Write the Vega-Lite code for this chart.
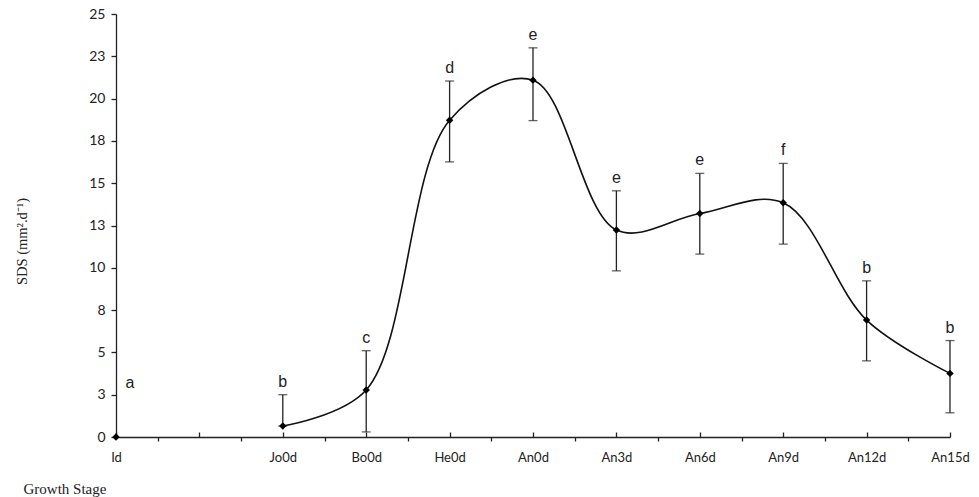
{
  "$schema": "https://vega.github.io/schema/vega-lite/v6.json",
  "width": 834,
  "height": 423,
  "autosize": {"type": "none"},
  "padding": {"left": 116, "top": 14, "right": 29, "bottom": 60},
  "background": "white",
  "config": {
    "view": {"stroke": null},
    "axis": {
      "grid": false,
      "domainColor": "#222",
      "domainWidth": 1.3,
      "tickColor": "#222",
      "tickWidth": 1.3,
      "labelColor": "#222",
      "titleColor": "#222",
      "labelFont": "Lato",
      "titleFont": "Liberation Serif",
      "titleFontWeight": "normal"
    }
  },
  "data": {
    "values": [
      {"stage": "Id", "x": 0, "mean": 0, "lower": null, "upper": null, "letter": "a"},
      {"stage": "Jo0d", "x": 2, "mean": 0.65, "lower": 0.65, "upper": 2.5, "letter": "b"},
      {"stage": "Bo0d", "x": 3, "mean": 2.78, "lower": 0.3, "upper": 5.1, "letter": "c"},
      {"stage": "He0d", "x": 4, "mean": 18.72, "lower": 16.26, "upper": 21.04, "letter": "d"},
      {"stage": "An0d", "x": 5, "mean": 21.09, "lower": 18.7, "upper": 23.0, "letter": "e"},
      {"stage": "An3d", "x": 6, "mean": 12.23, "lower": 9.82, "upper": 14.55, "letter": "e"},
      {"stage": "An6d", "x": 7, "mean": 13.21, "lower": 10.81, "upper": 15.58, "letter": "e"},
      {"stage": "An9d", "x": 8, "mean": 13.84, "lower": 11.4, "upper": 16.17, "letter": "f"},
      {"stage": "An12d", "x": 9, "mean": 6.91, "lower": 4.5, "upper": 9.23, "letter": "b"},
      {"stage": "An15d", "x": 10, "mean": 3.76, "lower": 1.43, "upper": 5.7, "letter": "b"}
    ]
  },
  "layer": [
    {
      "transform": [{"filter": "datum.x >= 2"}],
      "mark": {"type": "line", "interpolate": "catmull-rom", "color": "#111", "strokeWidth": 1.6},
      "encoding": {
        "x": {
          "field": "x", "type": "quantitative",
          "scale": {"domain": [0, 10], "nice": false, "zero": false},
          "axis": {
            "orient": "bottom",
            "values": [0, 1, 2, 3, 4, 5, 6, 7, 8, 9, 10],
            "labelExpr": "['Id','','Jo0d','Bo0d','He0d','An0d','An3d','An6d','An9d','An12d','An15d'][datum.value]",
            "tickSize": -5,
            "labelPadding": 19,
            "labelFontSize": 13,
            "labelFlush": false,
            "labelOverlap": false,
            "title": "Growth Stage",
            "titleFontSize": 15,
            "titleX": -93,
            "titleY": 51,
            "titleAlign": "left",
            "titleAnchor": null,
            "titleBaseline": "middle"
          }
        },
        "y": {
          "field": "mean", "type": "quantitative",
          "scale": {"domain": [0, 25], "nice": false},
          "axis": {
            "values": [0, 2.5, 5, 7.5, 10, 12.5, 15, 17.5, 20, 22.5, 25],
            "format": ".0f",
            "tickSize": 5,
            "labelPadding": 6,
            "labelFontSize": 14,
            "title": "SDS (mm².d⁻¹)",
            "titleFontSize": 14.5,
            "titleX": -94,
            "titleY": 227,
            "titleAngle": -90,
            "titleAlign": "center",
            "titleAnchor": null,
            "titleBaseline": "middle"
          }
        }
      }
    },
    {
      "transform": [{"filter": "datum.upper != null"}],
      "mark": {"type": "errorbar", "color": "#222", "thickness": 1.3, "ticks": {"size": 9}},
      "encoding": {
        "x": {"field": "x", "type": "quantitative", "axis": null},
        "y": {
          "field": "lower", "type": "quantitative",
          "axis": {
            "values": [0, 2.5, 5, 7.5, 10, 12.5, 15, 17.5, 20, 22.5, 25],
            "format": ".0f",
            "tickSize": 5,
            "labelPadding": 6,
            "labelFontSize": 14,
            "title": "SDS (mm².d⁻¹)",
            "titleFontSize": 14.5,
            "titleX": -94,
            "titleY": 227,
            "titleAngle": -90,
            "titleAlign": "center",
            "titleAnchor": null,
            "titleBaseline": "middle"
          }
        },
        "y2": {"field": "upper"}
      }
    },
    {
      "mark": {"type": "point", "shape": "diamond", "filled": true, "color": "#000", "size": 55, "opacity": 1},
      "encoding": {
        "x": {
          "field": "x", "type": "quantitative",
          "axis": {
            "orient": "bottom",
            "values": [0.5, 1.5, 2.5, 3.5, 4.5, 5.5, 6.5, 7.5, 8.5, 9.5],
            "tickSize": 4,
            "labels": false,
            "domain": false,
            "title": null
          }
        },
        "y": {
          "field": "mean", "type": "quantitative",
          "axis": {
            "values": [0, 2.5, 5, 7.5, 10, 12.5, 15, 17.5, 20, 22.5, 25],
            "format": ".0f",
            "tickSize": 5,
            "labelPadding": 6,
            "labelFontSize": 14,
            "title": "SDS (mm².d⁻¹)",
            "titleFontSize": 14.5,
            "titleX": -94,
            "titleY": 227,
            "titleAngle": -90,
            "titleAlign": "center",
            "titleAnchor": null,
            "titleBaseline": "middle"
          }
        }
      }
    },
    {
      "transform": [{"filter": "datum.upper != null"}],
      "mark": {"type": "text", "font": "Liberation Sans", "fontSize": 16, "color": "#222", "dy": -13, "baseline": "middle", "align": "center"},
      "encoding": {
        "x": {"field": "x", "type": "quantitative", "axis": null},
        "y": {
          "field": "upper", "type": "quantitative",
          "axis": {
            "values": [0, 2.5, 5, 7.5, 10, 12.5, 15, 17.5, 20, 22.5, 25],
            "format": ".0f",
            "tickSize": 5,
            "labelPadding": 6,
            "labelFontSize": 14,
            "title": "SDS (mm².d⁻¹)",
            "titleFontSize": 14.5,
            "titleX": -94,
            "titleY": 227,
            "titleAngle": -90,
            "titleAlign": "center",
            "titleAnchor": null,
            "titleBaseline": "middle"
          }
        },
        "text": {"field": "letter"}
      }
    },
    {
      "transform": [{"filter": "datum.upper == null"}],
      "mark": {"type": "text", "font": "Liberation Sans", "fontSize": 16, "color": "#222", "dx": 14, "baseline": "middle", "align": "center"},
      "encoding": {
        "x": {"field": "x", "type": "quantitative", "axis": null},
        "y": {
          "datum": 3.2, "type": "quantitative",
          "axis": {
            "values": [0, 2.5, 5, 7.5, 10, 12.5, 15, 17.5, 20, 22.5, 25],
            "format": ".0f",
            "tickSize": 5,
            "labelPadding": 6,
            "labelFontSize": 14,
            "title": "SDS (mm².d⁻¹)",
            "titleFontSize": 14.5,
            "titleX": -94,
            "titleY": 227,
            "titleAngle": -90,
            "titleAlign": "center",
            "titleAnchor": null,
            "titleBaseline": "middle"
          }
        },
        "text": {"field": "letter"}
      }
    }
  ],
  "resolve": {"axis": {"x": "independent"}}
}
